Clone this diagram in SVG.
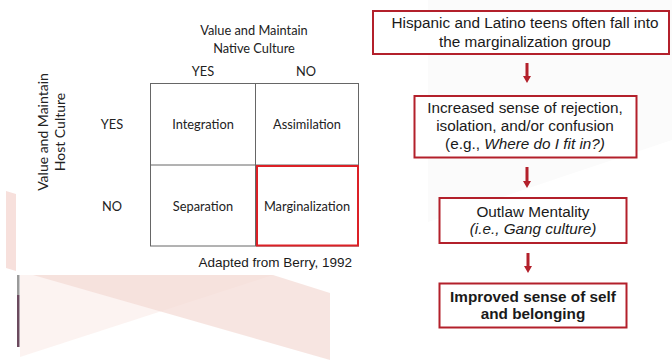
<svg xmlns="http://www.w3.org/2000/svg" width="672" height="360" viewBox="0 0 672 360">
  <style>
    .cal { font-family: Lato, "Open Sans", sans-serif; font-size: 12.8px; fill: #222; text-anchor: middle; }
    .side { font-size: 14px; }
    .ari { font-family: "Liberation Sans", Arial, sans-serif; font-size: 15.3px; fill: #1a1a1a; text-anchor: middle; }
    .note { font-family: "Liberation Sans", Arial, sans-serif; font-size: 13.5px; fill: #1a1a1a; text-anchor: end; }
    .it { font-style: italic; }
    .bold { font-weight: bold; }
    .grid { fill: none; stroke: #666; stroke-width: 1; }
    .flow { fill: #fff; stroke: #b3202b; stroke-width: 2; }
    .arrow { fill: #b3202b; }
  </style>

  <!-- background decoration -->
  <g id="background">
    <rect x="0" y="0" width="672" height="360" fill="#fff"/>
    <polygon points="428,0 672,0 672,140 428,222" fill="#fbfbfb"/>
    <polygon points="6,191 16,194 16,271 6,268" fill="#f7e0dc"/>
    <polygon points="20,275 273,275 20,357" fill="#fbf0ee" opacity="0.8"/>
    <polygon points="33,275 273,275 330,293 330,360" fill="#f4dad4" opacity="0.7"/>
    <rect x="17" y="275" width="2.5" height="20" fill="#9a9a9a"/>
    <rect x="17" y="295" width="2.5" height="52" fill="#6b4a5e"/>
  </g>

  <!-- acculturation matrix -->
  <g id="matrix">
    <text class="cal" x="254" y="35">Value and Maintain</text>
    <text class="cal" x="254" y="53">Native Culture</text>
    <text class="cal" x="203" y="76">YES</text>
    <text class="cal" x="306" y="76">NO</text>
    <text class="cal side" transform="translate(48,132) rotate(-90)">Value and Maintain</text>
    <text class="cal side" transform="translate(65,132) rotate(-90)">Host Culture</text>
    <text class="cal" x="112" y="129">YES</text>
    <text class="cal" x="112" y="211">NO</text>
    <rect class="grid" x="150.5" y="83.5" width="208" height="162.5"/>
    <line class="grid" x1="255.5" y1="83.5" x2="255.5" y2="246"/>
    <line class="grid" x1="150.5" y1="165" x2="358.5" y2="165"/>
  </g>
  <g id="integration"><text class="cal" x="203" y="129">Integration</text></g>
  <g id="assimilation"><text class="cal" x="307" y="129">Assimilation</text></g>
  <g id="separation"><text class="cal" x="203" y="211">Separation</text></g>
  <g id="marginalization">
    <rect x="257" y="166" width="101" height="79.5" fill="none" stroke="#dc2026" stroke-width="2"/>
    <text class="cal" x="307" y="211">Marginalization</text>
  </g>
  <text class="note" x="352" y="267">Adapted from Berry, 1992</text>

  <!-- flow chart -->
  <g id="connectors">
    <polygon class="arrow" points="525.5,63 528.5,63 528.5,76 531,76 527,83 523,76 525.5,76"/>
    <polygon class="arrow" points="525.5,167 528.5,167 528.5,181 531,181 527,188 523,181 525.5,181"/>
    <polygon class="arrow" points="526.5,253 529.5,253 529.5,266 532,266 528,273 524,266 526.5,266"/>
  </g>
  <g id="box-teens">
    <rect class="flow" x="373" y="11" width="296" height="43"/>
    <text class="ari" x="525" y="28">Hispanic and Latino teens often fall into</text>
    <text class="ari" x="525" y="47">the marginalization group</text>
  </g>
  <g id="box-rejection">
    <rect class="flow" x="414.5" y="96" width="222" height="61.5"/>
    <text class="ari" x="525" y="113">Increased sense of rejection,</text>
    <text class="ari" x="525" y="131">isolation, and/or confusion</text>
    <text class="ari" x="525" y="149">(e.g., <tspan class="it">Where do I fit in?)</tspan></text>
  </g>
  <g id="box-outlaw">
    <rect class="flow" x="439.5" y="198" width="187" height="45"/>
    <text class="ari" x="533" y="217">Outlaw Mentality</text>
    <text class="ari it" x="533" y="234">(i.e., Gang culture)</text>
  </g>
  <g id="box-belonging">
    <rect class="flow" x="439.5" y="283.5" width="187" height="44"/>
    <text class="ari bold" x="533" y="302">Improved sense of self</text>
    <text class="ari bold" x="533" y="319">and belonging</text>
  </g>
</svg>
